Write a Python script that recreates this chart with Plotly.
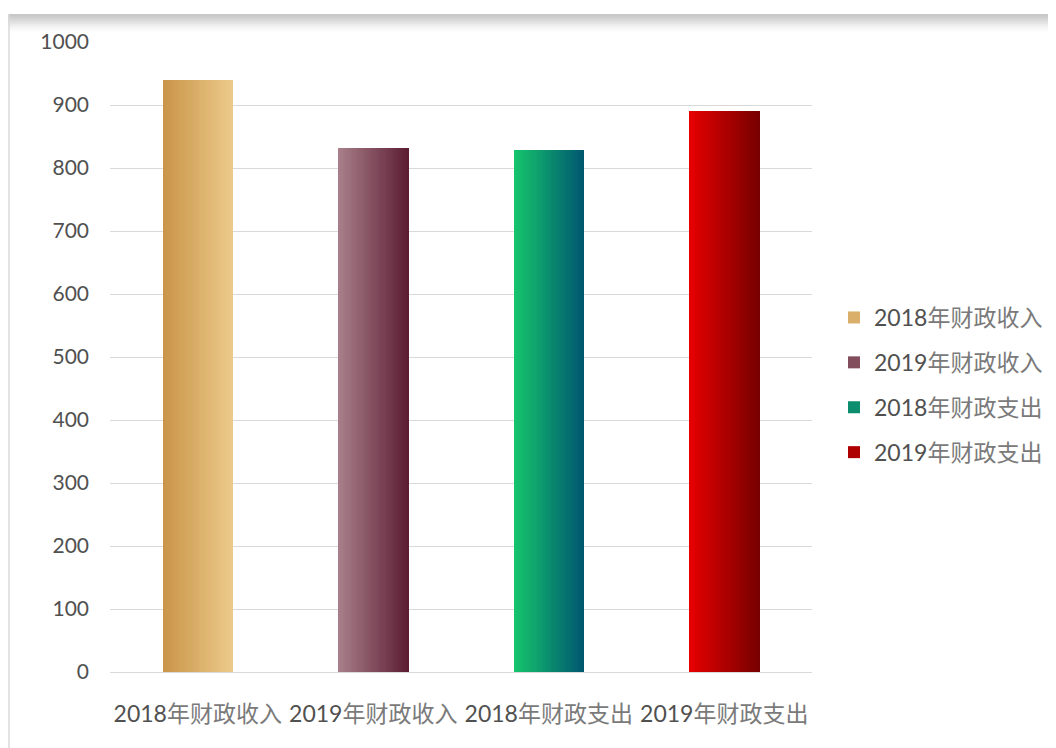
import re
import plotly.graph_objects as go

categories = ["2018年财政收入", "2019年财政收入", "2018年财政支出", "2019年财政支出"]
values = [940, 832, 828, 891]
y_ticks = [0, 100, 200, 300, 400, 500, 600, 700, 800, 900, 1000]

# gradient endpoints (left, right) per bar
grad_left = [(200, 148, 72), (168, 128, 138), (22, 198, 108), (232, 0, 0)]
grad_right = [(236, 202, 138), (92, 28, 50), (0, 86, 112), (118, 0, 0)]

BAR_W = 0.4
N = 30

def mix(a, b, t):
    return "rgb(%d,%d,%d)" % tuple(round(a[i] + (b[i] - a[i]) * t) for i in range(3))

def styled(label):
    # darker digits, lighter CJK, like the reference
    m = re.match(r"(\d+)(.*)", label)
    return "<span style='color:#505050'>%s</span><span style='color:#7a7a7a'>%s</span>" % (m.group(1), m.group(2))

fig = go.Figure()

# legend / base bars
for i, c in enumerate(categories):
    fig.add_trace(go.Bar(
        x=[c], y=[values[i]], name=styled(c), width=BAR_W,
        marker=dict(color=mix(grad_left[i], grad_right[i], 0.5), line=dict(width=0)),
        legendgroup=c, showlegend=True, hoverinfo="skip",
    ))

# gradient slices
sw = BAR_W / N
for k in range(N):
    t = (k + 0.5) / N
    fig.add_trace(go.Bar(
        x=categories, y=values,
        width=sw * 1.15, offset=-BAR_W / 2 + k * sw,
        marker=dict(color=[mix(grad_left[i], grad_right[i], t) for i in range(len(categories))],
                    line=dict(width=0)),
        showlegend=False, hoverinfo="skip",
    ))

# page has an 8px body margin; plot area target in page pixels
OFF = 8
L, R, T, B = 110, 812, 42, 672
W, H = 1056 - OFF, 748 - OFF
def px(x): return (x - L) / (R - L)
def py(y): return (B - y) / (B - T)

shapes = []
shades = [200, 205, 212, 220, 228, 236, 243, 248, 252]
for j, s in enumerate(shades):
    shapes.append(dict(type="rect", xref="paper", yref="paper",
                       x0=px(8), x1=px(1060), y0=py(14 + 2 * j + 2), y1=py(14 + 2 * j),
                       fillcolor="rgb(%d,%d,%d)" % (s, s, s), line=dict(width=0), layer="below"))
shapes.append(dict(type="line", xref="paper", yref="paper", x0=px(9), x1=px(9),
                   y0=py(14), y1=py(760), line=dict(color="#DADADA", width=1.5), layer="below"))
shapes.append(dict(type="line", xref="paper", yref="paper", x0=px(1049), x1=px(1049),
                   y0=py(28), y1=py(760), line=dict(color="#EEEEEE", width=1.5), layer="below"))

fig.update_layout(
    width=W, height=H,
    margin=dict(l=L - OFF, r=W - (R - OFF), t=T - OFF, b=H - (B - OFF), autoexpand=False),
    paper_bgcolor="white", plot_bgcolor="white",
    barmode="overlay", bargap=0,
    font=dict(family="Lato, Noto Sans CJK SC, sans-serif", color="#595959"),
    shapes=shapes,
    legend=dict(x=px(834), y=py(385), xanchor="left", yanchor="middle",
                font=dict(size=23, color="#595959"), tracegroupgap=12,
                bgcolor="rgba(0,0,0,0)", itemwidth=30),
    xaxis=dict(type="category", showgrid=False, showline=False, ticks="",
               tickvals=categories, ticktext=[styled(c) for c in categories],
               tickfont=dict(size=23, color="#595959"), ticklabelstandoff=26,
               range=[-0.5, 3.5]),
    yaxis=dict(range=[0, 1000], tickvals=y_ticks, showgrid=True, gridcolor="#D9D9D9",
               gridwidth=1, zeroline=True, zerolinecolor="#D9D9D9", zerolinewidth=1,
               showline=False, ticks="", tickfont=dict(size=21, color="#505050",
               family="Lato, sans-serif"), ticklabelstandoff=20),
)

fig.write_html("out.html")
